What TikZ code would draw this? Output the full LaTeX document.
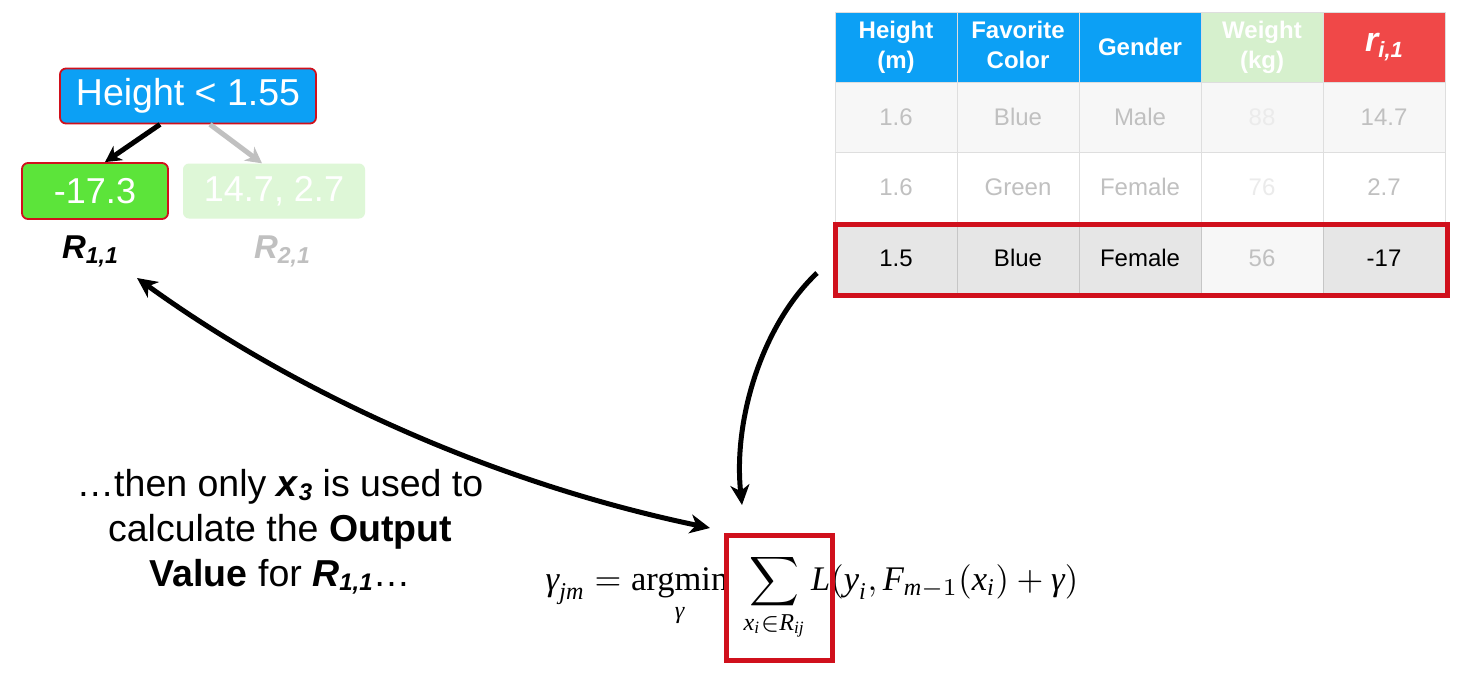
\documentclass[tikz,border=0pt]{standalone}
\usepackage{amsmath}
\usepackage{fontspec}
\setmainfont{Liberation Sans}
\newfontfamily\tms{Liberation Serif}
\usetikzlibrary{arrows.meta}
\definecolor{hblue}{RGB}{12,160,245}
\definecolor{hred}{RGB}{240,72,72}
\definecolor{hlgreen}{RGB}{214,240,205}
\definecolor{leafgreen}{RGB}{92,228,58}
\definecolor{leaflight}{RGB}{222,247,215}
\definecolor{boxred}{RGB}{208,16,28}
\definecolor{fadetxt}{RGB}{192,192,192}
\definecolor{vfade}{RGB}{235,235,235}
\definecolor{rowgray}{RGB}{230,230,230}
\definecolor{rowlight}{RGB}{247,247,247}
\definecolor{gridc}{RGB}{222,222,222}
\newcommand{\twol}[2]{\raisebox{-3pt}{\begin{tabular}{@{}c@{}}#1\\#2\end{tabular}}}
\begin{document}
\begin{tikzpicture}[x=1pt,y=-1pt,
  treebox/.style={rounded corners=6pt, inner sep=0pt, text=white, font=\fontsize{36}{40}\selectfont},
  redline/.style={draw=boxred, line width=1.8pt},
  cell/.style={minimum width=122pt, minimum height=70pt, inner sep=0pt, align=center, draw=gridc, line width=0.8pt, font=\fontsize{24}{29}\selectfont},
  hcell/.style={cell, text=white, font=\bfseries\fontsize{24}{30}\selectfont},
  arr/.style={line width=5pt, -{Stealth[length=20pt,width=19pt,inset=6pt]}},
  dblarr/.style={line width=5pt, {Stealth[length=20pt,width=19pt,inset=6pt]}-{Stealth[length=20pt,width=19pt,inset=6pt]}},
  tarr/.style={line width=5pt, -{Stealth[length=16pt,width=17pt,inset=5pt]}},
  rlabel/.style={inner sep=0pt, font=\bfseries\itshape\fontsize{33}{36}\selectfont}
]
\useasboundingbox[fill=white] (0,0) rectangle (1464,691);

% ---- tree ----
\node[treebox, fill=hblue, redline, minimum width=256pt, minimum height=55pt, font=\fontsize{37.5}{40}\selectfont] (root) at (188,96) {Height < 1.55};
\node[treebox, fill=leafgreen, redline, minimum width=146pt, minimum height=56pt] (leafA) at (95,191) {-17.3};
\node[treebox, fill=leaflight, minimum width=182pt, minimum height=55pt] (leafB) at (274,191) {14.7, 2.7};
\draw[tarr] ([xshift=-28pt]root.south) -- ([xshift=10pt]leafA.north);
\draw[tarr, draw=fadetxt] ([xshift=22pt]root.south) -- ([xshift=-12pt]leafB.north);
\node[rlabel, anchor=base] (R11) at (90,258) {R\raisebox{-5pt}{\fontsize{23}{23}\selectfont 1,1}};
\node[rlabel, anchor=base, text=fadetxt] (R21) at (282,258) {R\raisebox{-5pt}{\fontsize{23}{23}\selectfont 2,1}};

% ---- table ----
\node[hcell, fill=hblue] (h1) at (896,47) {\twol{Height}{(m)}};
\node[hcell, fill=hblue] (h2) at (1018,47) {\twol{Favorite}{Color}};
\node[hcell, fill=hblue] (h3) at (1140,47) {Gender};
\node[hcell, fill=hlgreen] (h4) at (1262,47) {\twol{Weight}{(kg)}};
\node[hcell, fill=hred] (h5) at (1384,47) {{\fontsize{34}{34}\selectfont\itshape r}\raisebox{-6pt}{\itshape\fontsize{22}{22}\selectfont i,1}};

\node[cell, fill=rowlight, text=fadetxt] (a1) at (896,117) {1.6};
\node[cell, fill=rowlight, text=fadetxt] (a2) at (1018,117) {Blue};
\node[cell, fill=rowlight, text=fadetxt] (a3) at (1140,117) {Male};
\node[cell, fill=rowlight, text=vfade] (a4) at (1262,117) {88};
\node[cell, fill=rowlight, text=fadetxt] (a5) at (1384,117) {14.7};

\node[cell, fill=white, text=fadetxt] (b1) at (896,187) {1.6};
\node[cell, fill=white, text=fadetxt] (b2) at (1018,187) {Green};
\node[cell, fill=white, text=fadetxt] (b3) at (1140,187) {Female};
\node[cell, fill=white, text=vfade] (b4) at (1262,187) {76};
\node[cell, fill=white, text=fadetxt] (b5) at (1384,187) {2.7};

\node[cell, fill=rowgray, draw=gray!45] (c1) at (896,258) {1.5};
\node[cell, fill=rowgray, draw=gray!45] (c2) at (1018,258) {Blue};
\node[cell, fill=rowgray, draw=gray!45] (c3) at (1140,258) {Female};
\node[cell, fill=rowlight, draw=gray!45, text=fadetxt] (c4) at (1262,258) {56};
\node[cell, fill=rowgray, draw=gray!45] (c5) at (1384,258) {-17};
\node[draw=boxred, line width=5pt, minimum width=612pt, minimum height=71pt, inner sep=0pt] (hl) at (1141,259.5) {};

% ---- equation ----
\node[font=\tms\fontsize{10}{12}\selectfont, scale=3.45, anchor=base west, inner sep=0pt] (eq) at (545,590)
 {$\displaystyle\textit{γ}_{\textit{jm}} = \mathop{\text{argmin}}\limits_{\textit{γ}}\;\sum\limits_{\textit{x}_{\textit{i}}\in \textit{R}_{\textit{ij}}} \textit{L}(\textit{y}_{\textit{i}}, \textit{F}_{\textit{m}-1}(\textit{x}_{\textit{i}})+\textit{γ})$};
\node[draw=boxred, line width=5pt, minimum width=106pt, minimum height=125pt, inner sep=0pt] (sumbox) at (779,598) {};

% ---- explanatory text ----
\node[align=center, font=\fontsize{37.5}{45}\selectfont, anchor=base, inner sep=0pt] (txt) at (280,586)
 {\ldots then only \textbf{\textit{x}}\raisebox{-4pt}{\bfseries\itshape\fontsize{24}{24}\selectfont 3} is used to\\
  calculate the \textbf{Output}\\
  \textbf{Value} for \textbf{\textit{R}}\raisebox{-4pt}{\bfseries\itshape\fontsize{24}{24}\selectfont 1,1}\ldots};

% ---- connectors ----
\coordinate (s1) at (817,273);
\coordinate (e1) at (742,505);
\draw[arr] (s1) .. controls (762,325) and (733,420) .. (e1);
\coordinate (d1) at (137,278);
\coordinate (d2) at (710,528);
\draw[dblarr] (d1) .. controls (285,385) and (480,480) .. (d2);
\end{tikzpicture}
\end{document}
